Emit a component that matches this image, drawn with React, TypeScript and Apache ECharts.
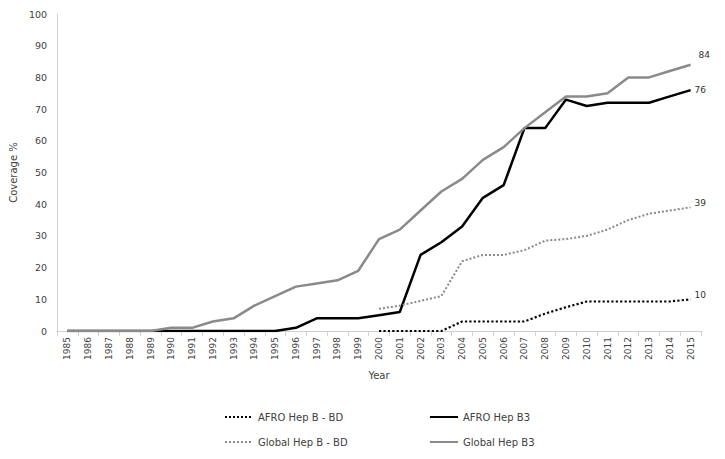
import React, { useEffect, useRef } from "react";
import * as echarts from "echarts";

const years = [
  "1985", "1986", "1987", "1988", "1989", "1990", "1991", "1992", "1993", "1994",
  "1995", "1996", "1997", "1998", "1999", "2000", "2001", "2002", "2003", "2004",
  "2005", "2006", "2007", "2008", "2009", "2010", "2011", "2012", "2013", "2014", "2015",
];

const afroBD: (number | null)[] = [
  null, null, null, null, null, null, null, null, null, null,
  null, null, null, null, null, 0, 0, 0, 0, 3,
  3, 3, 3, 5.5, 7.5, 9.3, 9.3, 9.3, 9.3, 9.3, 10,
];

const afroB3: number[] = [
  0, 0, 0, 0, 0, 0, 0, 0, 0, 0,
  0, 1, 4, 4, 4, 5, 6, 24, 28, 33,
  42, 46, 64, 64, 73, 71, 72, 72, 72, 74, 76,
];

const globalBD: (number | null)[] = [
  null, null, null, null, null, null, null, null, null, null,
  null, null, null, null, null, 7, 8, 9.5, 11, 22,
  24, 24, 25.5, 28.5, 29, 30, 32, 35, 37, 38, 39,
];

const globalB3: number[] = [
  0, 0, 0, 0, 0, 1, 1, 3, 4, 8,
  11, 14, 15, 16, 19, 29, 32, 38, 44, 48,
  54, 58, 64, 69, 74, 74, 75, 80, 80, 82, 84,
];

// end-of-line labels: AFRO BD, AFRO B3, Global BD, Global B3
const endLabels = ["10", "76", "39", "84"];

const FONT = "DejaVu Sans";
const TEXT = "#404040";
const GRAY = "#8a8a8a";

function endLabel(text: string, offset: number[]) {
  return {
    show: true,
    formatter: text,
    offset,
    distance: 4,
    fontFamily: FONT,
    fontSize: 9,
    color: "#333",
  };
}

export default function App() {
  const ref = useRef<HTMLDivElement>(null);
  useEffect(() => {
    const chart = echarts.init(ref.current!, null, { renderer: "svg" });
    const legendBase = {
      itemWidth: 28,
      itemHeight: 10,
      itemGap: 5,
      itemStyle: { opacity: 0 },
      textStyle: { fontFamily: FONT, fontSize: 10, color: TEXT },
      selectedMode: false,
    };
    chart.setOption({
      animation: false,
      textStyle: { fontFamily: FONT },
      grid: { left: 53, right: 24, top: 14, bottom: 128 },
      legend: [
        { ...legendBase, left: 219, top: 407, data: ["AFRO Hep B - BD"] },
        { ...legendBase, left: 424, top: 407, data: ["AFRO Hep B3"] },
        { ...legendBase, left: 219, top: 432, data: ["Global Hep B - BD"] },
        { ...legendBase, left: 424, top: 432, data: ["Global Hep B3"] },
      ],
      xAxis: {
        type: "category",
        data: years,
        boundaryGap: true,
        name: "Year",
        nameLocation: "middle",
        nameGap: 39,
        nameTextStyle: { fontFamily: FONT, fontSize: 10, color: TEXT },
        axisLine: { lineStyle: { color: "#d0d0d0", width: 1 } },
        axisTick: { show: true, length: 5, lineStyle: { color: "#d0d0d0" } },
        axisLabel: {
          rotate: 90,
          fontFamily: FONT,
          fontSize: 9,
          color: TEXT,
          margin: 6,
          interval: 0,
        },
      },
      yAxis: {
        type: "value",
        min: 0,
        max: 100,
        interval: 10,
        name: "Coverage %",
        nameLocation: "middle",
        nameGap: 37,
        nameTextStyle: { fontFamily: FONT, fontSize: 10, color: TEXT },
        axisLine: { show: true, lineStyle: { color: "#d0d0d0", width: 1 } },
        axisTick: { show: false },
        splitLine: { show: false },
        axisLabel: { fontFamily: FONT, fontSize: 9.5, color: TEXT, margin: 10 },
      },
      series: [
        {
          name: "AFRO Hep B - BD",
          type: "line",
          data: afroBD,
          symbol: "none",
          showSymbol: false,
          connectNulls: false,
          lineStyle: { color: "#000", width: 2.2, type: "dotted" },
          itemStyle: { color: "#000" },
          endLabel: endLabel(endLabels[0], [0, -4]),
        },
        {
          name: "AFRO Hep B3",
          type: "line",
          data: afroB3,
          symbol: "none",
          showSymbol: false,
          lineStyle: { color: "#000", width: 2.5 },
          itemStyle: { color: "#000" },
          endLabel: endLabel(endLabels[1], [0, 0]),
        },
        {
          name: "Global Hep B - BD",
          type: "line",
          data: globalBD,
          symbol: "none",
          showSymbol: false,
          lineStyle: { color: GRAY, width: 2, type: "dotted" },
          itemStyle: { color: GRAY },
          endLabel: endLabel(endLabels[2], [0, -4]),
        },
        {
          name: "Global Hep B3",
          type: "line",
          data: globalB3,
          symbol: "none",
          showSymbol: false,
          lineStyle: { color: GRAY, width: 2.5 },
          itemStyle: { color: GRAY },
          endLabel: endLabel(endLabels[3], [4, -10]),
        },
      ],
    });
    return () => chart.dispose();
  }, []);
  return <div ref={ref} style={{ width: 725, height: 459, margin: -8 }} />;
}
